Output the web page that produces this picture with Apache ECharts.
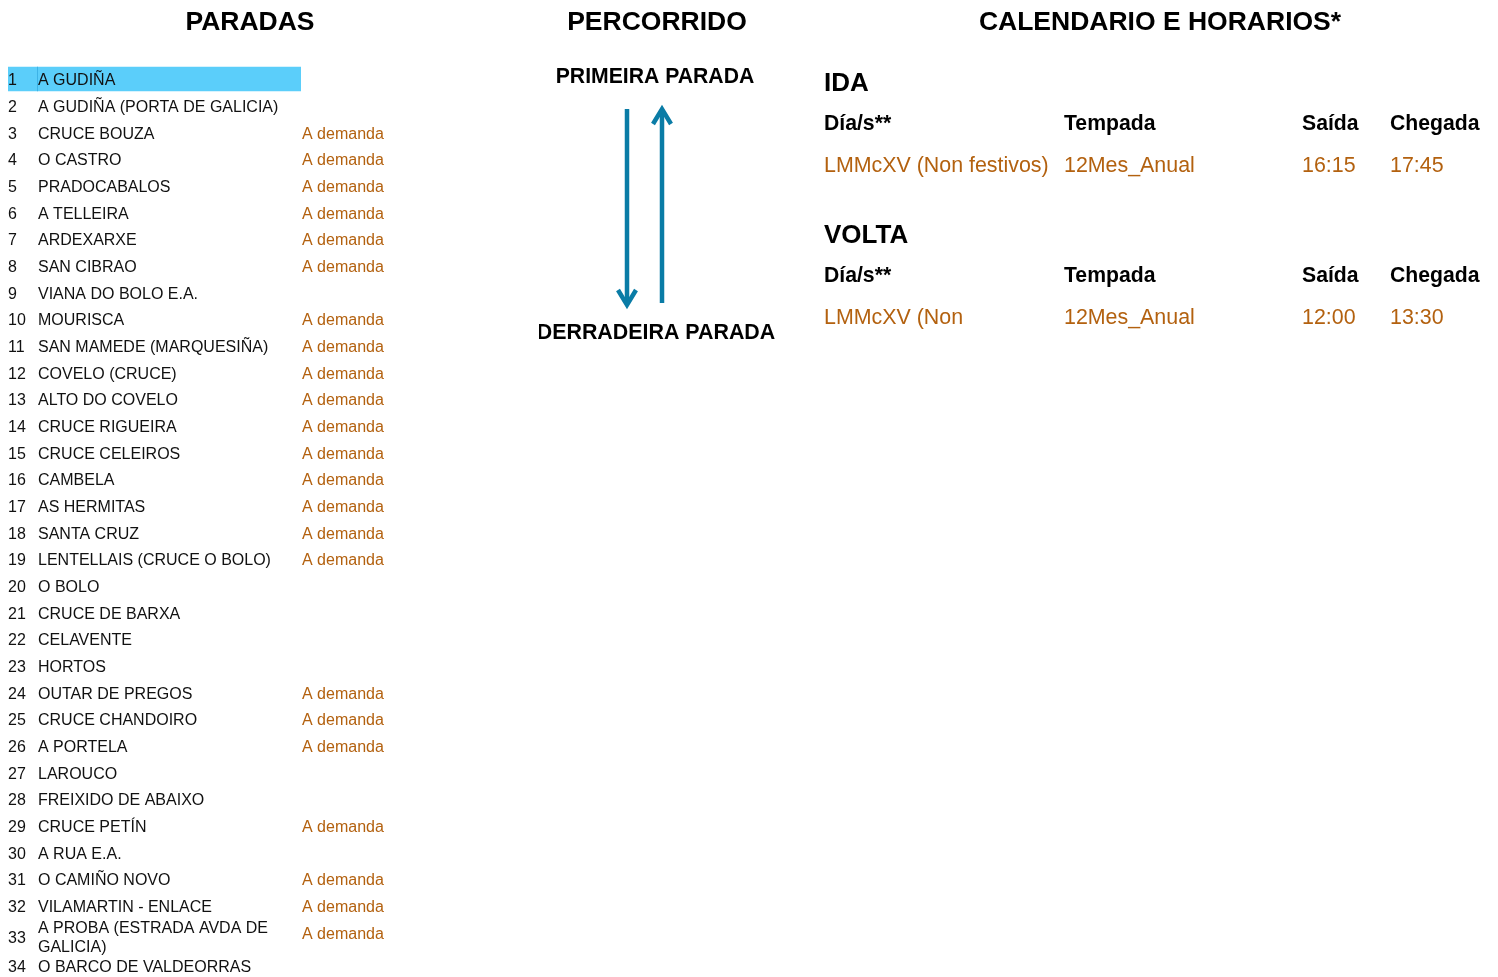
<!DOCTYPE html>
<html>
<head>
<meta charset="utf-8">
<script src="https://cdn.jsdelivr.net/npm/echarts@6/dist/echarts.min.js"></script>
<style>
html,body{margin:0;padding:0;background:#fff;}
#chart{width:1498px;height:977px;}
</style>
</head>
<body>
<div id="chart"></div>
<script>
// ---- data ----
const sectionTitles = ['PARADAS', 'PERCORRIDO', 'CALENDARIO E HORARIOS*'];
const routeEnds = ['PRIMEIRA PARADA', 'DERRADEIRA PARADA'];
const stopNumbers = ['1','2','3','4','5','6','7','8','9','10','11','12','13','14','15','16','17','18','19','20','21','22','23','24','25','26','27','28','29','30','31','32','33','34'];
const stopNames = [
  'A GUDIÑA', 'A GUDIÑA (PORTA DE GALICIA)', 'CRUCE BOUZA', 'O CASTRO', 'PRADOCABALOS',
  'A TELLEIRA', 'ARDEXARXE', 'SAN CIBRAO', 'VIANA DO BOLO E.A.', 'MOURISCA',
  'SAN MAMEDE (MARQUESIÑA)', 'COVELO (CRUCE)', 'ALTO DO COVELO', 'CRUCE RIGUEIRA', 'CRUCE CELEIROS',
  'CAMBELA', 'AS HERMITAS', 'SANTA CRUZ', 'LENTELLAIS (CRUCE O BOLO)', 'O BOLO',
  'CRUCE DE BARXA', 'CELAVENTE', 'HORTOS', 'OUTAR DE PREGOS', 'CRUCE CHANDOIRO',
  'A PORTELA', 'LAROUCO', 'FREIXIDO DE ABAIXO', 'CRUCE PETÍN', 'A RUA E.A.',
  'O CAMIÑO NOVO', 'VILAMARTIN - ENLACE', 'A PROBA (ESTRADA AVDA DE GALICIA)', 'O BARCO DE VALDEORRAS'
];
const stopNotes = [
  '', '', 'A demanda', 'A demanda', 'A demanda',
  'A demanda', 'A demanda', 'A demanda', '', 'A demanda',
  'A demanda', 'A demanda', 'A demanda', 'A demanda', 'A demanda',
  'A demanda', 'A demanda', 'A demanda', 'A demanda', '',
  '', '', '', 'A demanda', 'A demanda',
  'A demanda', '', '', 'A demanda', '',
  'A demanda', 'A demanda', 'A demanda', ''
];
const highlightedStop = 0; // index of first stop
const tripSections = ['IDA', 'VOLTA'];
const scheduleHeaders = ['Día/s**', 'Tempada', 'Saída', 'Chegada'];
const idaTrip = ['LMMcXV (Non festivos)', '12Mes_Anual', '16:15', '17:45'];
const voltaTrip = ['LMMcXV (Non', '12Mes_Anual', '12:00', '13:30'];

// ---- style / layout ----
const FONT = '"Liberation Sans", Arial, sans-serif';
const ORANGE = '#B3610F';
const BLUE = '#5BCEFA';
const ARROW = '#0A7CA6';
const TEXT = '#111111';

const chart = echarts.init(document.getElementById('chart'), null, {renderer: 'canvas'});

function stopRow(params, api) {
  const idx = api.value(1);
  const y0 = api.coord([0, idx])[1];
  const band = api.size([0, 1])[1];
  const ty = y0 + 2;
  let dy = 0;
  if (idx === 32) dy = 4;
  if (idx === 33) dy = 7;
  const children = [];
  if (idx === highlightedStop) {
    children.push({type: 'rect', shape: {x: 8, y: y0 - band / 2 + 1, width: 293, height: band - 2}, style: {fill: BLUE}});
    children.push({type: 'rect', shape: {x: 37, y: y0 - band / 2 + 1, width: 1, height: band - 2}, style: {fill: '#3DB3E6'}});
  }
  children.push({type: 'text', style: {text: stopNumbers[idx], x: 8, y: ty + dy, fill: TEXT, font: '16px ' + FONT, textAlign: 'left', textVerticalAlign: 'middle'}});
  children.push({type: 'text', style: {text: stopNames[idx], x: 38, y: ty + dy, fill: TEXT, font: '16px ' + FONT, textAlign: 'left', textVerticalAlign: 'middle', width: 258, overflow: 'break', lineHeight: 19}});
  if (stopNotes[idx]) {
    children.push({type: 'text', style: {text: stopNotes[idx], x: 302, y: ty, fill: ORANGE, font: '16px ' + FONT, textAlign: 'left', textVerticalAlign: 'middle'}});
  }
  return {type: 'group', children: children};
}

const graphics = [];
const titleX = [250, 657, 1160];
sectionTitles.forEach((t, i) => {
  graphics.push({type: 'text', x: titleX[i], y: 22.5, style: {text: t, font: 'bold 26.5px ' + FONT, fill: '#000', textAlign: 'center', textVerticalAlign: 'middle'}});
});
graphics.push({type: 'text', x: 655, y: 77.5, style: {text: routeEnds[0], font: 'bold 21.2px ' + FONT, fill: '#000', textAlign: 'center', textVerticalAlign: 'middle'}});
graphics.push({type: 'text', x: 656, y: 333.5, style: {text: routeEnds[1], font: 'bold 21.4px ' + FONT, fill: '#000', textAlign: 'center', textVerticalAlign: 'middle'}});
graphics.push({type: 'rect', shape: {x: 500, y: 316, width: 39, height: 34}, style: {fill: '#fff'}, z: 10});
// arrows
const arrowStyle = {stroke: ARROW, lineWidth: 4.5, fill: null, lineCap: 'butt', lineJoin: 'miter'};
graphics.push({type: 'line', shape: {x1: 627, y1: 109, x2: 627, y2: 304}, style: arrowStyle});
graphics.push({type: 'polyline', shape: {points: [[618, 290], [627, 305], [636, 290]]}, style: arrowStyle});
graphics.push({type: 'line', shape: {x1: 662, y1: 110, x2: 662, y2: 303}, style: arrowStyle});
graphics.push({type: 'polyline', shape: {points: [[653, 124], [662, 109], [671, 124]]}, style: arrowStyle});

// timetable
const colX = [824, 1064, 1302, 1390];
const trips = [idaTrip, voltaTrip];
const sectionY = [84, 236];
tripSections.forEach((s, k) => {
  const y = sectionY[k];
  graphics.push({type: 'text', x: 824, y: y, style: {text: s, font: 'bold 26px ' + FONT, fill: '#000', textAlign: 'left', textVerticalAlign: 'middle'}});
  scheduleHeaders.forEach((h, j) => {
    graphics.push({type: 'text', x: colX[j], y: y + 40, style: {text: h, font: 'bold 21.2px ' + FONT, fill: '#000', textAlign: 'left', textVerticalAlign: 'middle'}});
  });
  trips[k].forEach((v, j) => {
    graphics.push({type: 'text', x: colX[j], y: y + 82, style: {text: v, font: '21.4px ' + FONT, fill: ORANGE, textAlign: 'left', textVerticalAlign: 'middle'}});
  });
});

chart.setOption({
  animation: false,
  backgroundColor: '#fff',
  grid: {left: 0, right: 0, top: 65.67, height: 906.67, containLabel: false},
  xAxis: {type: 'value', min: 0, max: 1, show: false},
  yAxis: {type: 'category', data: stopNumbers, inverse: true, show: false},
  series: [{
    type: 'custom',
    renderItem: stopRow,
    data: stopNumbers.map((n, i) => [0, i]),
    clip: false,
    silent: true
  }],
  graphic: graphics
});
</script>
</body>
</html>
